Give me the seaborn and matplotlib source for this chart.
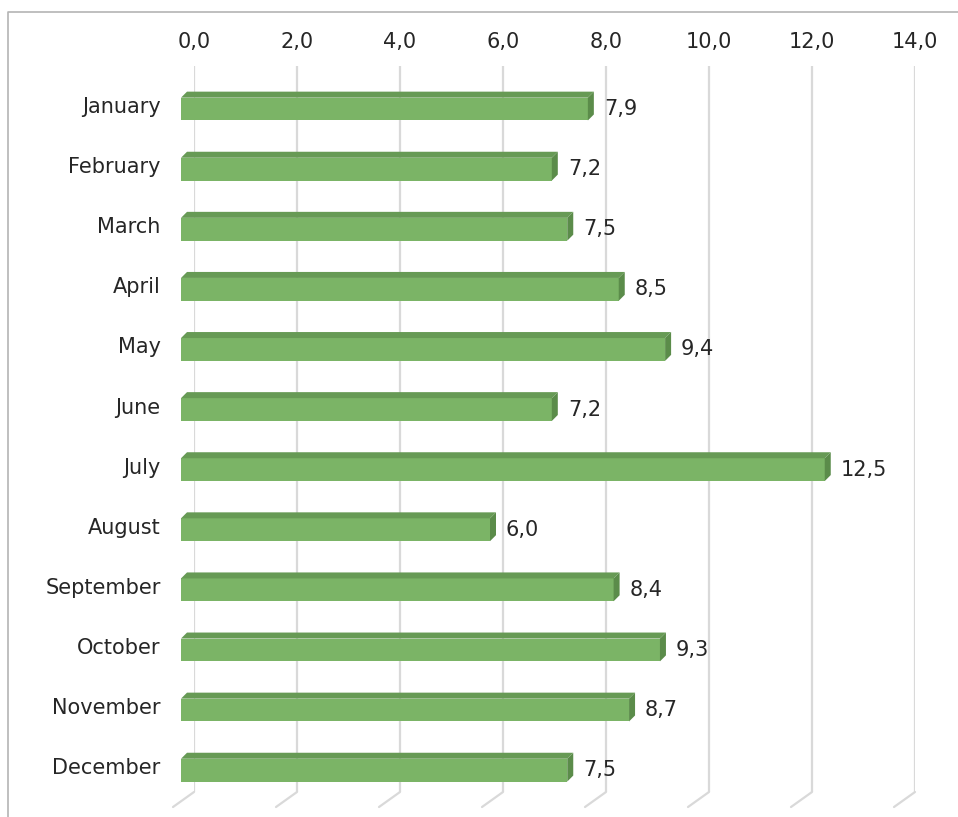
import numpy as np
import pandas as pd
import seaborn as sns
import matplotlib.pyplot as plt
from matplotlib.transforms import ScaledTranslation, blended_transform_factory
from matplotlib.patches import Polygon
from matplotlib.lines import Line2D

# Data
months = ['January', 'February', 'March', 'April', 'May', 'June', 'July',
          'August', 'September', 'October', 'November', 'December']
values = [7.9, 7.2, 7.5, 8.5, 9.4, 7.2, 12.5, 6.0, 8.4, 9.3, 8.7, 7.5]
ticks = [0, 2, 4, 6, 8, 10, 12, 14]

# Colours
face_col = '#7bb466'
top_col = '#679a55'
side_col = '#5b8c4a'
grid_col = '#d9d9d9'

sns.set_theme(style='white')
plt.rcParams['font.family'] = ['DejaVu Sans']

df = pd.DataFrame({'month': months, 'value': values})

fig = plt.figure(figsize=(9.58, 8.17), dpi=100)
ax = fig.add_axes([194 / 958, 25 / 817, 721 / 958, 726 / 817])

sns.barplot(data=df, x='value', y='month', orient='h', color=face_col,
            width=0.38, saturation=1, ax=ax, zorder=3)

ax.set_xlim(0, 14)
ax.set_ylim(11.43, -0.65)

# 3D offsets (in pixels): front face shift and bar depth
px = 1 / fig.dpi
front = ScaledTranslation(-13 * px, -4 * px, fig.dpi_scale_trans)
dx, dy = 6, 6

for p in ax.patches:
    tr = ax.transData + front
    p.set_transform(tr)
    p.set_clip_on(False)
    p.set_edgecolor('none')
    x0, y0 = p.get_x(), p.get_y()
    w, h = p.get_width(), p.get_height()
    # corners of the front face in display coords
    tl = tr.transform((x0, y0))
    trr = tr.transform((x0 + w, y0))
    br = tr.transform((x0 + w, y0 + h))
    top = Polygon([tl, trr, trr + [dx, dy], tl + [dx, dy]], closed=True,
                  transform=None, facecolor=top_col, edgecolor='none', zorder=4)
    side = Polygon([trr, br, br + [dx, dy], trr + [dx, dy]], closed=True,
                   transform=None, facecolor=side_col, edgecolor='none', zorder=4)
    fig.patches.append(top)
    fig.patches.append(side)

# Value labels
for i, v in enumerate(values):
    ax.annotate(f'{v:.1f}'.replace('.', ','), xy=(v, i), xytext=(3, -4),
                textcoords='offset pixels', ha='left', va='center',
                fontsize=15, color='#262626', zorder=5)

# Gridlines at back wall plus floor slants
bt = blended_transform_factory(ax.transData, ax.transAxes)
for t in ticks:
    ax.axvline(t, color=grid_col, lw=1.6, zorder=0)
    ax.annotate('', xy=(t, 0), xycoords=bt, xytext=(-21, -15),
                textcoords='offset pixels',
                arrowprops=dict(arrowstyle='-', color=grid_col, lw=1.6,
                                shrinkA=0, shrinkB=0), annotation_clip=False)

ax.xaxis.tick_top()
ax.set_xticks(ticks)
ax.set_xticklabels([f'{t:.1f}'.replace('.', ',') for t in ticks])
ax.tick_params(axis='x', length=0, pad=10, labelsize=15, colors='#262626')
ax.tick_params(axis='y', length=0, pad=24, labelsize=15, colors='#262626')
ax.set_xlabel('')
ax.set_ylabel('')
for s in ax.spines.values():
    s.set_visible(False)
ax.grid(False)

# Chart border (top and left visible)
fig.add_artist(Line2D([8 / 958, 8 / 958, 1], [0, 1 - 12 / 817, 1 - 12 / 817],
                      transform=fig.transFigure, color='#b4b4b4', lw=1.2))

fig.savefig('out.png', dpi=100)
